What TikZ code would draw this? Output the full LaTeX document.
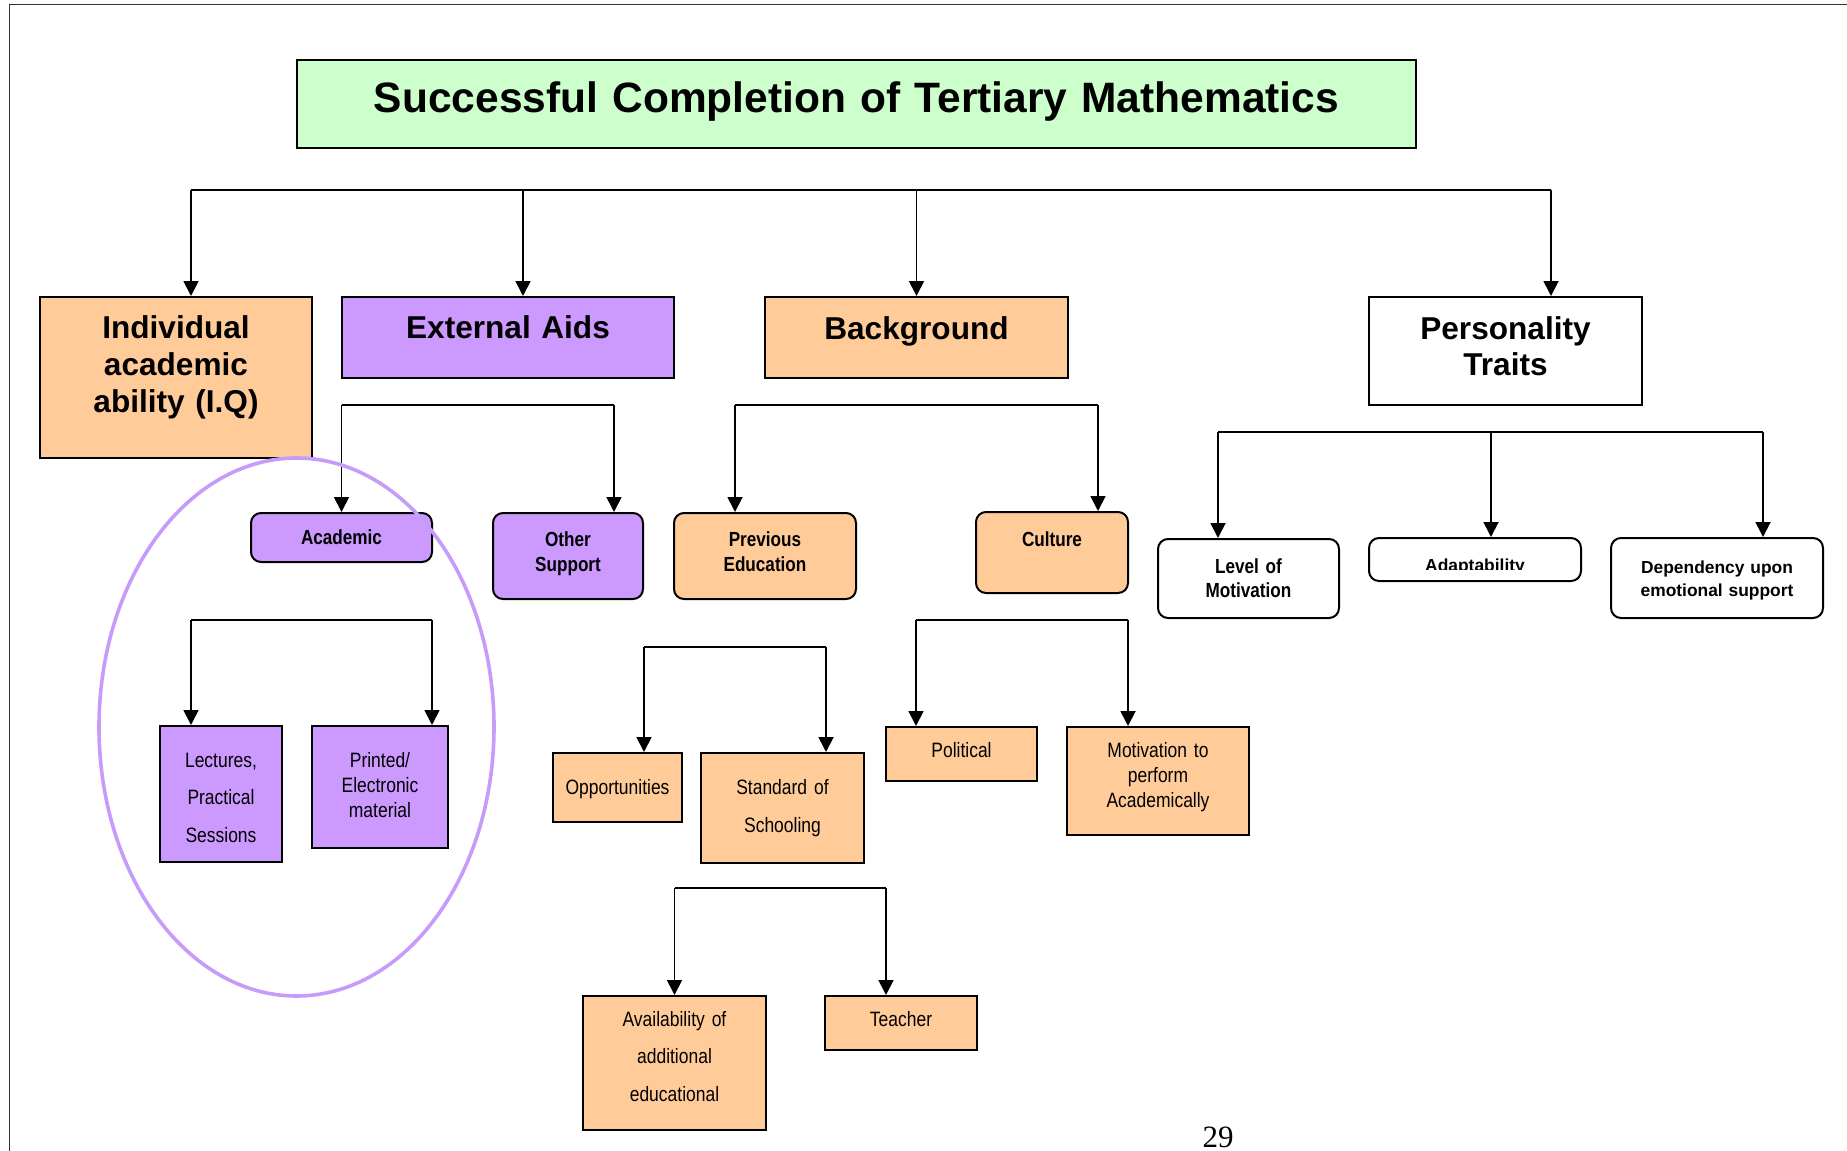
\documentclass[tikz,border=0pt]{standalone}
\usepackage{fontspec}
\setmainfont{Liberation Sans}
\newfontfamily\narrowfont{Liberation Sans}[FakeStretch=0.84, WordSpace=0.8]
\newfontfamily\pagefont{Liberation Serif}
\usepackage{xcolor}
\definecolor{peach}{RGB}{255, 204, 153}
\definecolor{lilac}{RGB}{204, 153, 255}
\definecolor{mint}{RGB}{204, 255, 204}
\definecolor{ringlilac}{RGB}{198, 156, 250}
\usepackage{tikz}
\usetikzlibrary{arrows.meta, shapes.geometric, calc}

\begin{document}
\begin{tikzpicture}[x=0.5pt, y=-0.5pt,
        box/.style={draw=black, line width=1pt, align=center, inner sep=0pt},
        sz/.style n args={3}{text width=#1, text height=#2, text depth=#3},
        heading/.style={box, font=\fontsize{15.8}{18.5}\selectfont\bfseries},
        factor/.style={box, rounded corners=5pt, font=\narrowfont\fontsize{10.2}{12.5}\selectfont\bfseries},
        trait/.style={box, rounded corners=5pt, font=\fontsize{8.7}{11.5}\selectfont\bfseries},
        item/.style={box, font=\narrowfont\fontsize{10.4}{12.5}\selectfont},
        loose/.style={font=\narrowfont\fontsize{10.4}{18.8}\selectfont},
        bus/.style={draw=black, line width=0.9pt},
        line/.style={bus, -{Triangle[length=7.5pt, width=7.5pt]}}]

        \useasboundingbox (0,0) rectangle (1847,1151);
        \draw[draw=black!80, line width=0.8pt] (9.4,1151) -- (9.4,4.5) -- (1847,4.5);

        \node [box, fill=mint, sz={559.5pt}{26pt}{18pt}, font=\fontsize{21.25}{24}\selectfont\bfseries] (goal) at (856.5,104) {Successful Completion of Tertiary Mathematics};

        % main factors
        \node [heading, fill=peach, sz={136pt}{20.5pt}{60pt}] (ind) at (176,377.5) {Individual\\academic\\ability (I.Q)};
        \node [heading, fill=lilac, sz={166pt}{20.5pt}{20pt}] (ext) at (508,337.5) {External Aids};
        \node [heading, fill=peach, sz={151.5pt}{21pt}{19.5pt}] (bg) at (916.5,337.5) {Background};
        \node [heading, fill=white, sz={136.5pt}{21pt}{33pt}, font=\fontsize{15.8}{18}\selectfont\bfseries] (pers) at (1505.5,351) {Personality\\Traits};

        % second level
        \node [factor, fill=lilac, sz={90.5pt}{15.5pt}{9pt}] (acad) at (341.5,537.5) {Academic};
        \node [factor, fill=lilac, sz={75pt}{16.5pt}{26.5pt}] (other) at (568,556) {Other\\Support};
        \node [factor, fill=peach, sz={91pt}{16.5pt}{26.5pt}] (prev) at (765,556) {Previous\\Education};
        \node [factor, fill=peach, sz={76pt}{17pt}{23.5pt}] (cult) at (1052,552.5) {Culture};
        \node [factor, fill=white, sz={90.5pt}{17pt}{22.5pt}, font=\narrowfont\fontsize{10.2}{12}\selectfont\bfseries] (lom) at (1248.5,578.5) {Level of\\Motivation};
        \node [trait, fill=white, sz={106pt}{17pt}{4.5pt}] (adapt) at (1475,559.5) {};
        \node [trait, fill=white, sz={106pt}{17.5pt}{22.5pt}] (dep) at (1717,578) {Dependency upon\\emotional support};

        % third level
        \node [item, loose, fill=lilac, sz={61pt}{20.5pt}{47.5pt}] (lect) at (221,794) {Lectures,\\Practical\\Sessions};
        \node [item, fill=lilac, sz={68pt}{20.5pt}{40.5pt}] (print) at (380,787) {Printed/\\Electronic\\material};
        \node [item, fill=peach, sz={64.5pt}{20.5pt}{14pt}] (opp) at (617.5,787.5) {Opportunities};
        \node [item, fill=peach, sz={81.5pt}{20.5pt}{34.5pt}, font=\narrowfont\fontsize{10.4}{19}\selectfont] (std) at (782.5,808) {Standard of\\Schooling};
        \node [item, fill=peach, sz={75.5pt}{15pt}{12pt}] (pol) at (961.5,754) {Political};
        \node [item, fill=peach, sz={91pt}{15pt}{39pt}] (mot) at (1158,781) {Motivation to\\perform\\Academically};
        \node [item, loose, fill=peach, sz={91.5pt}{15pt}{52pt}] (avail) at (674.5,1063) {Availability of\\additional\\educational};
        \node [item, fill=peach, sz={76pt}{15pt}{12pt}] (teach) at (901,1023) {Teacher};

        \begin{scope}
            \clip (adapt.north west) rectangle (adapt.east |- 0,569);
            \node [font=\fontsize{8.7}{11.5}\selectfont\bfseries, anchor=base, inner sep=0pt] (adapttext) at (adapt.center |- 0,571.5) {Adaptability};
        \end{scope}

        % branch levels
        \coordinate (lvl1) at (0,190);
        \coordinate (lvl2) at (0,405);
        \coordinate (lvl3) at (0,432);
        \coordinate (lvl4) at (0,620);
        \coordinate (lvl5) at (0,647);
        \coordinate (lvl6) at (0,888);

        \path [bus] ([xshift=7.5pt]ind.north |- lvl1) -- ([xshift=22.75pt]pers.north |- lvl1);
        \foreach \n/\dx in {ind/7.5pt, ext/7.5pt, bg/0pt, pers/22.75pt}
            \path [line] ([xshift=\dx]\n.north |- lvl1) -- ([xshift=\dx]\n.north);

        \path [bus] (acad.north |- lvl2) -- ([xshift=23pt]other.north |- lvl2);
        \foreach \n/\dx in {acad/0pt, other/23pt}
            \path [line] ([xshift=\dx]\n.north |- lvl2) -- ([xshift=\dx]\n.north);

        \path [bus] ([xshift=-15pt]prev.north |- lvl2) -- ([xshift=23pt]cult.north |- lvl2);
        \foreach \n/\dx in {prev/-15pt, cult/23pt}
            \path [line] ([xshift=\dx]\n.north |- lvl2) -- ([xshift=\dx]\n.north);

        \path [bus] ([xshift=-15.25pt]lom.north |- lvl3) -- ([xshift=23pt]dep.north |- lvl3);
        \foreach \n/\dx in {lom/-15.25pt, adapt/8pt, dep/23pt}
            \path [line] ([xshift=\dx]\n.north |- lvl3) -- ([xshift=\dx]\n.north);

        \path [bus] ([xshift=-15pt]lect.north |- lvl4) -- ([xshift=26pt]print.north |- lvl4);
        \foreach \n/\dx in {lect/-15pt, print/26pt}
            \path [line] ([xshift=\dx]\n.north |- lvl4) -- ([xshift=\dx]\n.north);

        \path [bus] ([xshift=-22.75pt]pol.north |- lvl4) -- ([xshift=-15pt]mot.north |- lvl4);
        \foreach \n/\dx in {pol/-22.75pt, mot/-15pt}
            \path [line] ([xshift=\dx]\n.north |- lvl4) -- ([xshift=\dx]\n.north);

        \path [bus] ([xshift=13.25pt]opp.north |- lvl5) -- ([xshift=21.75pt]std.north |- lvl5);
        \foreach \n/\dx in {opp/13.25pt, std/21.75pt}
            \path [line] ([xshift=\dx]\n.north |- lvl5) -- ([xshift=\dx]\n.north);

        \path [bus] (avail.north |- lvl6) -- ([xshift=-7.5pt]teach.north |- lvl6);
        \foreach \n/\dx in {avail/0pt, teach/-7.5pt}
            \path [line] ([xshift=\dx]\n.north |- lvl6) -- ([xshift=\dx]\n.north);

        \node [ellipse, draw=ringlilac, line width=1.8pt, inner sep=0pt, minimum width=197.5pt, minimum height=269pt] (cluster) at (296.5,727) {};

        \node [font=\pagefont\fontsize{15.5}{18}\selectfont, anchor=base, inner sep=0pt] (page) at (1218,1147) {29};
    \end{tikzpicture}
\end{document}
